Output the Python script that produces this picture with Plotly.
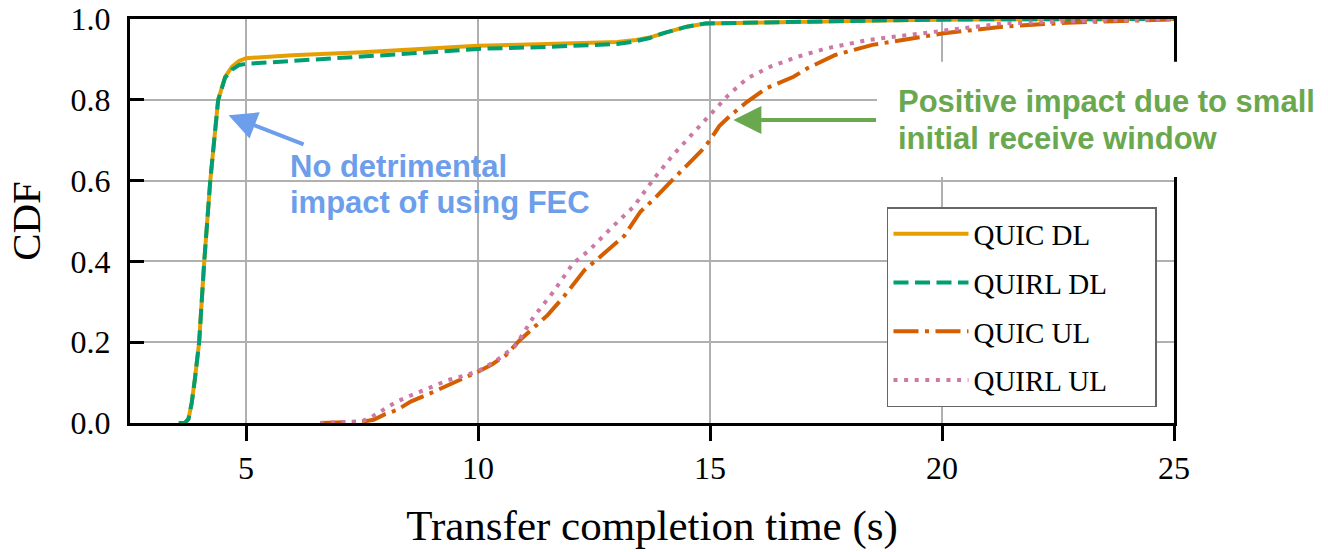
import plotly.graph_objects as go

# ---- data ----
dl_x = [3.55, 3.68, 3.76, 3.83, 3.9, 3.99, 4.1, 4.23, 4.4, 4.55, 4.7, 4.85, 5.0, 6.0, 7.5,
        9.0, 10.0, 11.5, 13.0, 13.4, 13.7, 14.0, 14.5, 14.9, 16.0, 17.5, 19.0, 20.5, 25.0]
quic_dl_y = [0, 0, 0.01, 0.05, 0.11, 0.2, 0.4, 0.6, 0.8, 0.857, 0.882, 0.896, 0.903, 0.91, 0.918,
             0.927, 0.934, 0.938, 0.943, 0.948, 0.954, 0.965, 0.981, 0.989, 0.992, 0.994, 0.997, 0.999, 1.0]
quirl_dl_y = [0, 0, 0.01, 0.05, 0.11, 0.2, 0.4, 0.6, 0.8, 0.855, 0.875, 0.886, 0.889, 0.897, 0.907,
              0.918, 0.926, 0.931, 0.938, 0.945, 0.953, 0.965, 0.981, 0.989, 0.992, 0.994, 0.997, 0.999, 1.0]

quic_ul_x = [6.6, 7.0, 7.5, 7.75, 8.0, 8.25, 8.55, 9.0, 9.3, 9.7, 10.0, 10.3, 10.6, 10.9, 11.2, 11.5,
             11.85, 12.3, 12.8, 13.15, 13.5, 13.8, 14.15, 14.5, 14.8, 15.0, 15.2, 15.45, 15.8, 16.2,
             16.8, 17.1, 17.7, 18.5, 19.4, 20.0, 21.3, 22.7, 25.0]
quic_ul_y = [0, 0.001, 0.003, 0.008, 0.022, 0.032, 0.053, 0.075, 0.09, 0.11, 0.127, 0.145, 0.168, 0.205,
             0.235, 0.267, 0.313, 0.379, 0.428, 0.463, 0.523, 0.555, 0.597, 0.639, 0.672, 0.700, 0.735,
             0.762, 0.795, 0.828, 0.857, 0.878, 0.911, 0.936, 0.952, 0.964, 0.981, 0.991, 0.999]

quirl_ul_x = [6.6, 7.0, 7.5, 7.75, 8.0, 8.25, 8.55, 9.0, 9.35, 9.7, 10.0, 10.4, 10.8, 11.2, 11.6, 12.05,
              12.4, 12.9, 13.35, 13.8, 14.2, 14.6, 15.0, 15.4, 15.8, 16.3, 16.9, 17.5, 18.4, 19.4, 20.0,
              21.3, 22.3, 25.0]
quirl_ul_y = [0, 0.001, 0.004, 0.018, 0.036, 0.053, 0.068, 0.09, 0.106, 0.117, 0.128, 0.155, 0.19, 0.263,
              0.321, 0.395, 0.428, 0.486, 0.535, 0.606, 0.663, 0.713, 0.762, 0.812, 0.853, 0.882, 0.907,
              0.927, 0.948, 0.962, 0.969, 0.989, 0.993, 1.0]

x_ticks = [5, 10, 15, 20, 25]
y_ticks = [0.0, 0.2, 0.4, 0.6, 0.8, 1.0]
y_ticktext = ["0.0", "0.2", "0.4", "0.6", "0.8", "1.0"]

SERIF = "Liberation Serif, Times New Roman, serif"
SANS = "Liberation Sans, Arial, sans-serif"
BLUE = "#6d9eeb"
GREEN = "#6aa84f"
PAD = "\u00a0" * 6  # right padding inside the legend box

fig = go.Figure()
series = [
    ("QUIC DL", dl_x, quic_dl_y, "#e69f00", "solid"),
    ("QUIRL DL", dl_x, quirl_dl_y, "#009e73", "15px,6.5px"),
    ("QUIC UL", quic_ul_x, quic_ul_y, "#d55e00", "25px,6.5px,4px,6.5px"),
    ("QUIRL UL", quirl_ul_x, quirl_ul_y, "#cc79a7", "4px,6.6px"),
]
for name, xs, ys, col, dash in series:
    fig.add_trace(go.Scatter(x=xs, y=ys, mode="lines", name=name + PAD, legendgroup=name,
                             line=dict(color=col, width=4, dash=dash)))

axis_common = dict(showline=True, linecolor="black", linewidth=3, mirror=True,
                   showgrid=True, gridcolor="#b0b0b0", gridwidth=2, zeroline=False,
                   tickcolor="black", tickwidth=2.5, automargin=False,
                   tickfont=dict(family=SERIF, size=32, color="black"))

fig.update_xaxes(range=[2.5, 25], tickvals=x_ticks, ticks="outside", ticklen=15,
                 title=dict(text="Transfer completion time (s)", standoff=25,
                            font=dict(family=SERIF, size=43, color="black")),
                 **axis_common)
fig.update_yaxes(range=[0, 1], tickvals=y_ticks, ticktext=y_ticktext, ticks="inside", ticklen=14,
                 ticklabelstandoff=10,
                 title=dict(text="CDF", standoff=18,
                            font=dict(family=SERIF, size=41, color="black")),
                 **axis_common)

# white box behind the green note (covers frame & grid like the reference)
fig.add_shape(type="rect", xref="paper", yref="paper", x0=0.7155, x1=1.15, y0=0.609, y1=0.894,
              fillcolor="white", line=dict(width=0), layer="above")

notes = [
    ("No detrimental", 5.907, 0.634, BLUE),
    ("impact of using FEC", 5.907, 0.545, BLUE),
    ("Positive impact due to small", 19.0, 0.795, GREEN),
    ("initial receive window", 19.0, 0.703, GREEN),
]
for txt, x, y, col in notes:
    fig.add_annotation(x=x, y=y, xref="x", yref="y", text="<b>" + txt + "</b>", showarrow=False,
                       xanchor="left", yanchor="middle",
                       font=dict(family=SANS, size=31, color=col))

arrows = [
    (4.624, 0.762, 6.274, 0.688, BLUE),
    (15.504, 0.75, 18.61, 0.75, GREEN),
]
for x, y, ax, ay, col in arrows:
    fig.add_annotation(x=x, y=y, ax=ax, ay=ay, xref="x", yref="y", axref="x", ayref="y",
                       text="", showarrow=True, arrowhead=2, arrowsize=1.4, arrowwidth=4,
                       arrowcolor=col)

fig.update_layout(
    width=1328, height=552,
    margin=dict(l=130, r=154, t=19, b=129),
    paper_bgcolor="white", plot_bgcolor="white",
    showlegend=True,
    legend=dict(x=0.9837, y=0.0396, xanchor="right", yanchor="bottom",
                bgcolor="white", bordercolor="#666666", borderwidth=1.5,
                font=dict(family=SERIF, size=29, color="black"),
                tracegroupgap=8, itemwidth=75),
)

fig.write_html("out.html")
